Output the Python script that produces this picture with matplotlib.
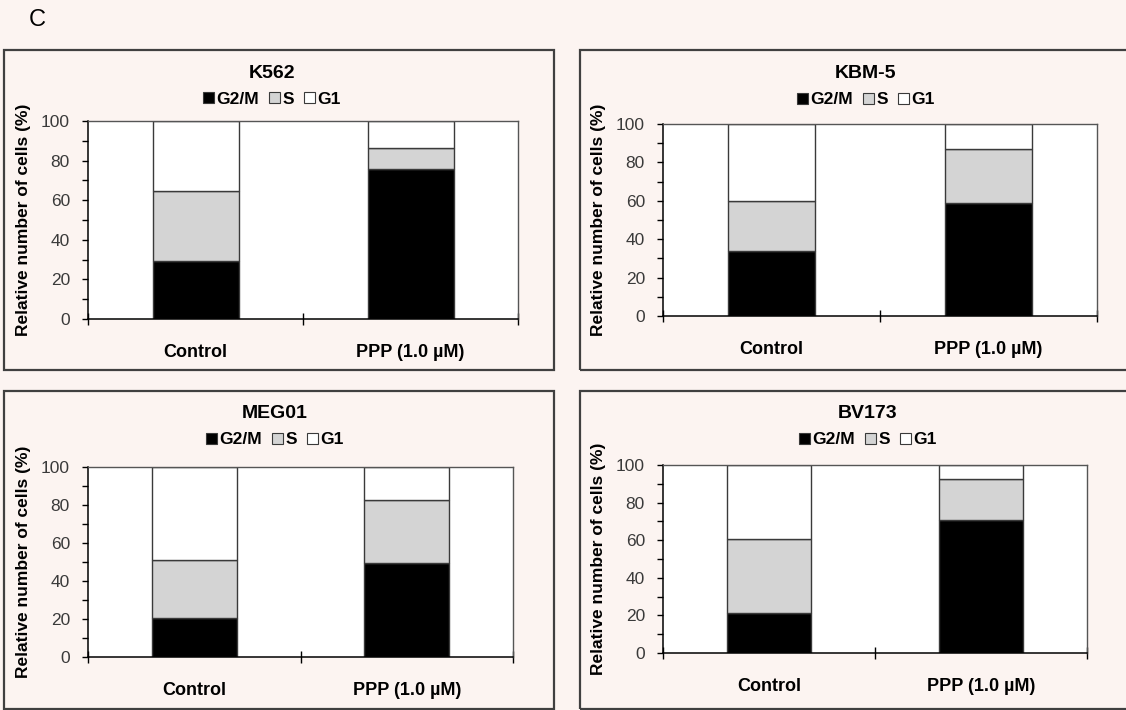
"""
Cell-cycle distribution (G2/M, S, G1) for four CML cell lines, control vs PPP.
"""

import matplotlib.pyplot as plt
from matplotlib.patches import Patch, Rectangle

# --- data (percent of cells) ---
conditions = ["Control", "PPP (1.0 \u00b5M)"]
phases = ["G2/M", "S", "G1"]

cell_lines = ["K562", "KBM-5", "MEG01", "BV173"]
g2m = {"K562": [29.1, 75.6], "KBM-5": [33.6, 58.6],
       "MEG01": [20.4, 49.5], "BV173": [21.2, 70.5]}
s_phase = {"K562": [35.5, 10.6], "KBM-5": [26.4, 28.5],
           "MEG01": [30.8, 33.0], "BV173": [39.6, 21.9]}
g1 = {"K562": [35.4, 13.8], "KBM-5": [40.0, 12.9],
      "MEG01": [48.8, 17.5], "BV173": [39.2, 7.6]}

# --- styling ---
BG = "#fcf4f1"
PHASE_COLORS = ["#000000", "#d4d4d4", "#ffffff"]
EDGE = "#3a3a3a"
FONT = "Liberation Sans"

W, H = 1126, 710
plt.rcParams["font.family"] = [FONT, "DejaVu Sans"]

fig = plt.figure(figsize=(W / 100, H / 100), dpi=100, facecolor=BG)


def px_rect(left, top, right, bottom):
    """Pixel box -> figure fraction [x, y, w, h]."""
    return [left / W, 1 - bottom / H, (right - left) / W, (bottom - top) / H]


# panel frames (pixels) and axes boxes (pixels)
panel_boxes = {
    "K562": (4, 50, 554, 370),
    "KBM-5": (580, 50, 1140, 370),
    "MEG01": (4, 391, 554, 709),
    "BV173": (580, 391, 1140, 709),
}
axes_boxes = {
    "K562": (88, 121, 518, 319),
    "KBM-5": (663, 124, 1097, 316),
    "MEG01": (88, 467, 513, 657),
    "BV173": (663, 465, 1087, 653),
}
title_y = {"K562": 73, "KBM-5": 73, "MEG01": 413, "BV173": 413}
legend_y = {"K562": 99, "KBM-5": 100, "MEG01": 440, "BV173": 440}
title_x = {"K562": 272, "KBM-5": 866, "MEG01": 275, "BV173": 868}


def draw_panel(name):
    l, t, r, b = panel_boxes[name]
    fig.patches.append(Rectangle((l / W, 1 - b / H), (r - l) / W, (b - t) / H,
                                 transform=fig.transFigure, fill=False,
                                 edgecolor="#404040", linewidth=1.6))

    ax = fig.add_axes(px_rect(*axes_boxes[name]))
    ax.set_facecolor("white")
    x = range(len(conditions))
    bottom = [0, 0]
    for vals, col in zip([g2m[name], s_phase[name], g1[name]], PHASE_COLORS):
        ax.bar(x, vals, width=0.4, bottom=bottom, color=col,
               edgecolor=EDGE, linewidth=1.0)
        bottom = [bt + v for bt, v in zip(bottom, vals)]

    ax.set_xlim(-0.5, 1.5)
    ax.set_ylim(0, 100)
    ax.set_yticks(range(0, 101, 20))
    ax.set_yticks(range(10, 100, 20), minor=True)
    ax.tick_params(axis="y", which="both", direction="out", length=4,
                   width=1, labelsize=12.5, colors="black",
                   labelcolor="#3a3a3a", pad=9)
    ax.set_xticks([-0.5, 0.5, 1.5])
    ax.set_xticklabels([])
    ax.tick_params(axis="x", which="major", direction="inout", length=9,
                   width=1)
    ax.set_xticks([0, 1], minor=True)
    ax.set_xticklabels(conditions, minor=True, fontsize=13, fontweight="bold")
    ax.tick_params(axis="x", which="minor", length=0, pad=18)

    for side in ["left", "bottom"]:
        ax.spines[side].set_color("black")
        ax.spines[side].set_linewidth(1.1)
    for side in ["top", "right"]:
        ax.spines[side].set_color("#555555")
        ax.spines[side].set_linewidth(1.0)

    ax.set_ylabel("Relative number of cells (%)", fontsize=12.5,
                  fontweight="bold", labelpad=7)

    fig.text(title_x[name] / W, 1 - title_y[name] / H, name, ha="center",
             va="center", fontsize=14, fontweight="bold")

    handles = [Patch(facecolor=c, edgecolor=EDGE, linewidth=0.8)
               for c in PHASE_COLORS]
    ax.legend(handles, phases, ncol=3, frameon=False, loc="center",
              bbox_to_anchor=(title_x[name] / W, 1 - legend_y[name] / H),
              bbox_transform=fig.transFigure, handlelength=0.6,
              handleheight=0.6, handletextpad=0.15, columnspacing=0.6,
              prop={"weight": "bold", "size": 12.5})


for cl in cell_lines:
    draw_panel(cl)

fig.text(29 / W, 1 - 20 / H, "C", fontsize=17, ha="left", va="center")

fig.savefig("out.png", dpi=100, facecolor=BG)
